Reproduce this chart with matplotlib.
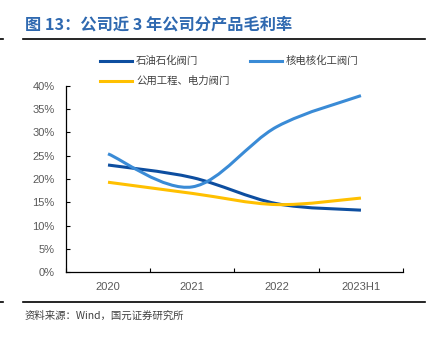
import matplotlib.pyplot as plt
from matplotlib.path import Path
from matplotlib.patches import PathPatch
from matplotlib.lines import Line2D

plt.rcParams['font.family'] = ['Noto Sans CJK SC', 'DejaVu Sans']

categories = ['2020', '2021', '2022', '2023H1']
petro = [23.0, 20.3, 14.7, 13.3]      # 石油石化阀门
nuclear = [25.4, 18.3, 31.2, 37.9]    # 核电核化工阀门
utility = [19.3, 16.9, 14.5, 15.9]    # 公用工程、电力阀门
series_names = ['石油石化阀门', '核电核化工阀门', '公用工程、电力阀门']
colors = ['#0D4EA0', '#3A8BD6', '#FFC000']


def smooth_path(xs, ys):
    # Excel-like smoothed line: cubic bezier through each point
    n = len(xs)
    verts = [(xs[0], ys[0])]
    codes = [Path.MOVETO]
    for i in range(n - 1):
        p0 = (xs[max(i - 1, 0)], ys[max(i - 1, 0)])
        p1 = (xs[i], ys[i])
        p2 = (xs[i + 1], ys[i + 1])
        p3 = (xs[min(i + 2, n - 1)], ys[min(i + 2, n - 1)])
        c1 = (p1[0] + (p2[0] - p0[0]) / 6, p1[1] + (p2[1] - p0[1]) / 6)
        c2 = (p2[0] - (p3[0] - p1[0]) / 6, p2[1] - (p3[1] - p1[1]) / 6)
        verts += [c1, c2, p2]
        codes += [Path.CURVE4] * 3
    return Path(verts, codes)


fig = plt.figure(figsize=(4.42, 3.38), dpi=100)
ax = fig.add_axes([0.149, 0.195, 0.763, 0.551])

x = list(range(len(categories)))
for vals, c in zip([petro, nuclear, utility], colors):
    ax.add_patch(PathPatch(smooth_path(x, vals), facecolor='none',
                           edgecolor=c, lw=2.2, capstyle='butt'))

ax.set_xlim(-0.5, 3.5)
ax.set_ylim(0, 40)
ax.set_yticks(range(0, 41, 5))
ax.set_yticklabels([f'{v}%' for v in range(0, 41, 5)])
ax.set_xticks(x)
ax.set_xticklabels(categories)
ax.set_xticks([-0.5, 0.5, 1.5, 2.5, 3.5], minor=True)
ax.tick_params(axis='x', which='major', length=0, pad=7)
ax.tick_params(axis='x', which='minor', direction='in', length=3, width=0.8)
ax.tick_params(axis='y', direction='in', length=3, width=0.8, pad=8)
ax.tick_params(labelsize=8, labelcolor='#595959')
for lab in ax.get_xticklabels() + ax.get_yticklabels():
    lab.set_family(['Liberation Sans', 'DejaVu Sans'])
for s in ['top', 'right']:
    ax.spines[s].set_visible(False)
for s in ['left', 'bottom']:
    ax.spines[s].set_linewidth(0.9)

W, H = 442, 338


def fx(px):
    return px / W


def fy(py):
    return 1 - py / H


# title and rules
fig.text(fx(25), fy(25), '图 13：公司近 3 年公司分产品毛利率', color='#2F69B0',
         fontsize=11.7, fontweight='bold', va='center', ha='left')
fig.add_artist(Line2D([fx(23), fx(425)], [fy(38.5), fy(38.5)], color='black', lw=1.2))
fig.add_artist(Line2D([0, fx(3)], [fy(38.5), fy(38.5)], color='black', lw=1.2))
fig.add_artist(Line2D([fx(23), fx(425)], [fy(302), fy(302)], color='black', lw=1.2))
fig.add_artist(Line2D([0, fx(3)], [fy(302), fy(302)], color='black', lw=1.2))

# legend
legend_pos = [(100, 61), (250, 61), (100, 81)]
for (lx, ly), name, c in zip(legend_pos, series_names, colors):
    fig.add_artist(Line2D([fx(lx), fx(lx + 32)], [fy(ly), fy(ly)], color=c, lw=2.2))
    fig.text(fx(lx + 36), fy(ly), name, fontsize=7.5, color='#404040',
             va='center', ha='left')

fig.text(fx(25), fy(316), '资料来源：Wind，国元证券研究所', fontsize=7.5,
         color='#404040', va='center', ha='left')

plt.savefig('out.png', dpi=100)
